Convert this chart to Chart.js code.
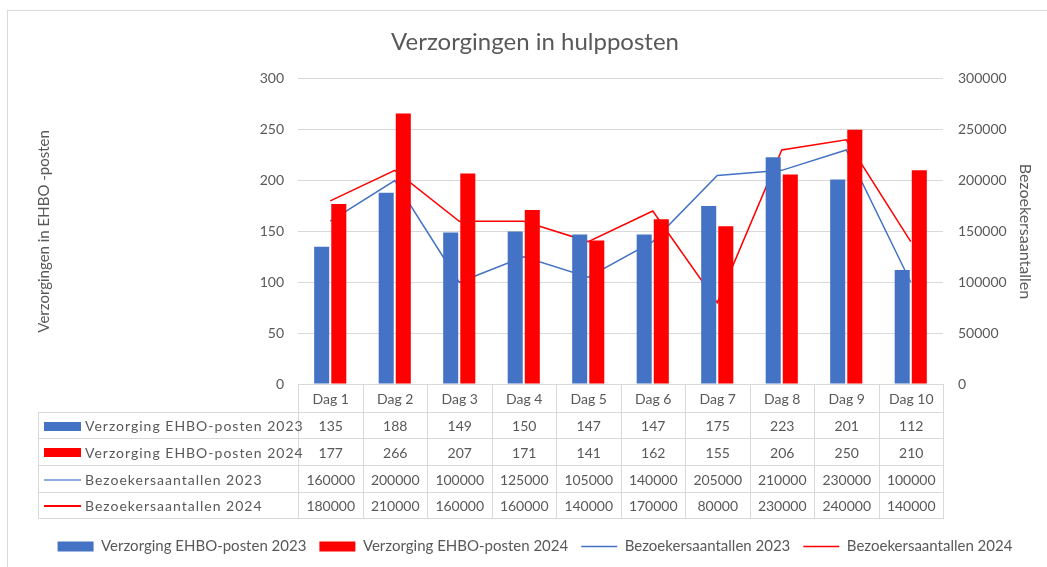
<!DOCTYPE html>
<html lang="nl">
<head>
  <meta charset="UTF-8">
  <title>Verzorgingen in hulpposten</title>
  <script src="https://cdn.jsdelivr.net/npm/chart.js"></script>
  <style>
    body {
      margin: 0;
      background: #fff;
      font-family: Lato, sans-serif;
      overflow: hidden;
    }
    .chart-box {
      position: absolute;
      left: 7px;
      top: 10px;
      width: 1050px;
      height: 557px;
      box-sizing: border-box;
      border-top: 1px solid #d9d9d9;
      border-left: 1px solid #d9d9d9;
    }
    .data-table {
      position: absolute;
      border-collapse: collapse;
      table-layout: fixed;
      font-family: Lato, sans-serif;
      font-size: 14px;
      color: #595959;
    }
    .data-table td {
      border: 1px solid #d9d9d9;
      padding: 0;
      text-align: center;
      white-space: nowrap;
      overflow: visible;
    }
    .data-table td.empty { border: none; }
    .data-table td.lbl {
      text-align: left;
      padding-left: 5px;
      letter-spacing: 1px;
    }
    .key {
      display: inline-block;
      width: 37px;
      vertical-align: middle;
      margin-right: 4px;
      position: relative;
      top: -1px;
    }
  </style>
</head>
<body>

  <div class="chart-box" id="box">
    <canvas id="chart"></canvas>
    <table class="data-table" id="dataTable"></table>
  </div>

  <script>
    const days = ['Dag 1', 'Dag 2', 'Dag 3', 'Dag 4', 'Dag 5', 'Dag 6', 'Dag 7', 'Dag 8', 'Dag 9', 'Dag 10'];
    const care2023 = [135, 188, 149, 150, 147, 147, 175, 223, 201, 112];
    const care2024 = [177, 266, 207, 171, 141, 162, 155, 206, 250, 210];
    const visitors2023 = [160000, 200000, 100000, 125000, 105000, 140000, 205000, 210000, 230000, 100000];
    const visitors2024 = [180000, 210000, 160000, 160000, 140000, 170000, 80000, 230000, 240000, 140000];

    const blue = '#4472C4';
    const red = '#FF0000';
    const grey = '#595959';

    // build the data table under the plot, lined up with the x scale
    const tablePlugin = {
      id: 'dataTable',
      afterRender(chart) {
        const area = chart.chartArea;
        const colW = (area.right - area.left) / days.length;
        const tableLeft = 30;
        const rows = [
          { key: 'bar', color: blue, label: 'Verzorging EHBO-posten 2023', values: care2023 },
          { key: 'bar', color: red, label: 'Verzorging EHBO-posten 2024', values: care2024 },
          { key: 'line', color: blue, label: 'Bezoekersaantallen 2023', values: visitors2023 },
          { key: 'line', color: red, label: 'Bezoekersaantallen 2024', values: visitors2024 }
        ];
        const heights = [28, 26, 27, 27, 26];

        let html = '<colgroup><col style="width:' + (area.left - tableLeft) + 'px">';
        days.forEach(() => { html += '<col style="width:' + colW + 'px">'; });
        html += '</colgroup>';
        html += '<tr style="height:' + heights[0] + 'px"><td class="empty"></td>';
        days.forEach(d => { html += '<td>' + d + '</td>'; });
        html += '</tr>';
        rows.forEach((r, i) => {
          const keyStyle = r.key === 'bar'
            ? 'height:9px;background:' + r.color
            : 'height:0;border-top:2px solid ' + (r.color === blue ? '#8faadc' : r.color);
          html += '<tr style="height:' + heights[i + 1] + 'px"><td class="lbl"><span class="key" style="' + keyStyle + '"></span>' + r.label + '</td>';
          r.values.forEach(v => { html += '<td>' + v + '</td>'; });
          html += '</tr>';
        });

        const table = document.getElementById('dataTable');
        table.innerHTML = html;
        table.style.left = tableLeft + 'px';
        table.style.top = area.bottom + 'px';
        table.style.width = (area.right - tableLeft) + 'px';
      }
    };

    const ctx = document.getElementById('chart').getContext('2d');
    const chart = new Chart(ctx, {
      type: 'bar',
      data: {
        labels: days,
        datasets: [
          {
            label: 'Verzorging EHBO-posten 2023',
            data: care2023,
            backgroundColor: blue,
            yAxisID: 'y',
            order: 0,
            pointStyle: 'rect',
            barPercentage: 0.88,
            categoryPercentage: 0.53
          },
          {
            label: 'Verzorging EHBO-posten 2024',
            data: care2024,
            backgroundColor: red,
            yAxisID: 'y',
            order: 0,
            pointStyle: 'rect',
            barPercentage: 0.88,
            categoryPercentage: 0.53
          },
          {
            type: 'line',
            label: 'Bezoekersaantallen 2023',
            data: visitors2023,
            borderColor: blue,
            backgroundColor: blue,
            borderWidth: 1.5,
            pointRadius: 0,
            pointStyle: 'line',
            tension: 0,
            yAxisID: 'y1',
            order: 1
          },
          {
            type: 'line',
            label: 'Bezoekersaantallen 2024',
            data: visitors2024,
            borderColor: red,
            backgroundColor: red,
            borderWidth: 1.5,
            pointRadius: 0,
            pointStyle: 'line',
            tension: 0,
            yAxisID: 'y1',
            order: 1
          }
        ]
      },
      options: {
        responsive: true,
        maintainAspectRatio: false,
        animation: false,
        layout: {
          padding: { left: 27, right: 22, top: 0, bottom: 3 }
        },
        plugins: {
          title: {
            display: true,
            text: 'Verzorgingen in hulpposten',
            color: grey,
            font: { family: 'Lato', size: 24, weight: 'normal' },
            padding: { top: 17, bottom: 22 }
          },
          legend: {
            position: 'bottom',
            labels: {
              color: grey,
              font: { family: 'Lato', size: 15 },
              usePointStyle: true,
              pointStyleWidth: 36,
              boxHeight: 10,
              padding: 13
            }
          },
          tooltip: { enabled: false }
        },
        scales: {
          x: {
            ticks: { display: false },
            grid: { display: false },
            border: { display: false },
            afterFit: s => { s.height = 142; }
          },
          y: {
            position: 'left',
            min: 0,
            max: 300,
            ticks: {
              stepSize: 50,
              color: grey,
              font: { family: 'Lato', size: 14 },
              padding: 14
            },
            grid: { color: '#d9d9d9', drawTicks: false },
            border: { display: false },
            title: {
              display: true,
              text: 'Verzorgingen in EHBO -posten',
              color: grey,
              font: { family: 'Lato', size: 15 },
              padding: 0
            },
            afterFit: s => { s.width = 263; }
          },
          y1: {
            position: 'right',
            min: 0,
            max: 300000,
            ticks: {
              stepSize: 50000,
              color: grey,
              font: { family: 'Lato', size: 14 },
              padding: 15,
              callback: v => String(v)
            },
            grid: { drawOnChartArea: false, drawTicks: false },
            border: { display: false },
            title: {
              display: true,
              text: 'Bezoekersaantallen',
              color: grey,
              font: { family: 'Lato', size: 16 },
              padding: 0
            },
            afterFit: s => { s.width = 92; }
          }
        }
      },
      plugins: [tablePlugin]
    });
  </script>

</body>
</html>
